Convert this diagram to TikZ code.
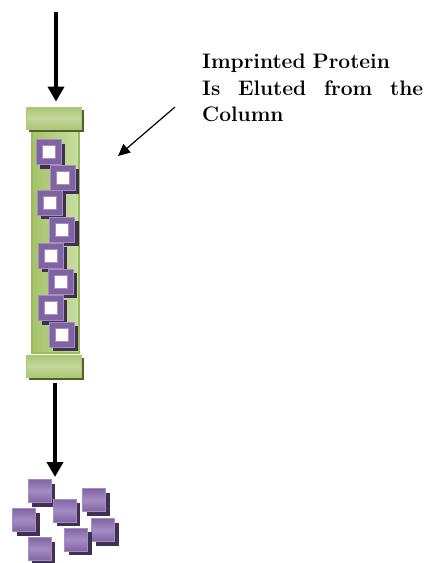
\documentclass[tikz,border=0pt]{standalone}
\usepackage{xcolor}
\usepackage{tikz}
\usetikzlibrary{arrows.meta, shadows, positioning}
\definecolor{tubegreen}{HTML}{9BBB59}
\definecolor{tubelight}{HTML}{C9DDA3}
\definecolor{capdark}{HTML}{4F6228}
\definecolor{protpurple}{HTML}{8064A2}
\definecolor{protlight}{HTML}{A48DC4}
\definecolor{protshadow}{HTML}{3F3151}
\tikzset{
  capbox/.style={rectangle,draw=tubegreen!80!white,line width=0.8pt,top color=tubegreen!85!white,bottom color=tubegreen!85!white,middle color=tubegreen!60!white,minimum width=55pt,minimum height=22pt,inner sep=0pt,drop shadow={shadow xshift=2.5pt,shadow yshift=-3pt,fill=capdark,opacity=1}},
  tubebox/.style={rectangle,draw=tubegreen,line width=1.2pt,left color=tubegreen!90!white,right color=tubelight,minimum width=47pt,minimum height=223pt,inner sep=0pt},
  protein/.style={rectangle,draw=protlight,line width=0.8pt,fill=protpurple,minimum size=#1,inner sep=0pt,drop shadow={shadow xshift=4pt,shadow yshift=-4pt,fill=protshadow,opacity=1}},
  freeprot/.style={protein=#1,fill=none,top color=protpurple,bottom color=protpurple,middle color=protlight},
  hole/.style={rectangle,draw=protlight,line width=0.6pt,fill=white,minimum size=13pt,inner sep=0pt},
  arr/.style={-{Triangle[length=15pt,width=16pt]},line width=3.8pt},
  thinarr/.style={-{Triangle[length=12pt,width=11pt]},line width=1.2pt},
  note/.style={anchor=north west,text width=221pt,align=left,inner sep=0pt,font=\fontsize{21}{26.5}\selectfont\bfseries}
}
\begin{document}
\begin{tikzpicture}[x=1pt,y=-1pt]
  \useasboundingbox (0,0) rectangle (430,563);

  % column with its two end caps
  \node[tubebox] (tube) at (55.5,241.5) {};
  \node[capbox] (topcap) at (53.5,118) {};
  \node[capbox] (botcap) at (54,366) {};

  % bound protein inside the column
  \foreach \i/\x/\y in {1/48.5/152,2/62.5/177.5,3/49.5/202.5,4/62/229.5,5/50.5/255.5,6/60.5/281.5,7/50.5/308,8/61.5/334.5} {
    \node[protein=25pt] (p\i) at (\x,\y) {};
    \node[hole] at (p\i) {};
  }

  % eluted protein below the column
  \foreach \j/\x/\y in {a/39.5/491,b/64.5/510.5,c/94/500,d/24/520,e/103/530,f/76/539.5,g/39.5/549}
    \node[freeprot=23pt] (q\j) at (\x,\y) {};

  \node[note] (label) at (202,54) {Imprinted Protein\\\leavevmode\hbox to 221pt{Is\hfill Eluted\hfill from\hfill the}\\Column};

  \coordinate (feed) at (56,12);
  \coordinate (tail) at (175,107);
  \coordinate (tip) at (118,156);
  \coordinate (pile) at (55,477);

  \draw[arr] (feed) -- ([yshift=5pt]topcap.north -| feed);
  \draw[arr] ([yshift=-6pt]botcap.south -| pile) -- (pile);
  \draw[thinarr] (tail) -- (tip);
\end{tikzpicture}
\end{document}
